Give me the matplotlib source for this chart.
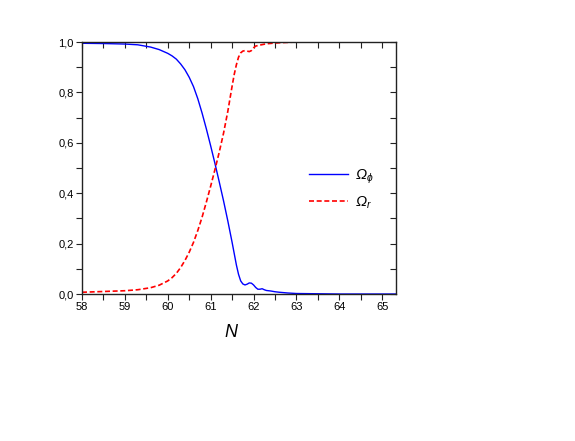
import matplotlib
matplotlib.use("Agg")
import matplotlib.pyplot as plt
from matplotlib.ticker import MultipleLocator
from matplotlib import markers

plt.rcParams.update({
    "font.family": ["Liberation Sans", "DejaVu Sans"],
    "mathtext.fontset": "custom",
    "mathtext.rm": "Liberation Sans:italic",
    "mathtext.it": "Liberation Sans:italic",
    "mathtext.bf": "Liberation Sans:bold",
})

# Omega_phi (solid blue)
n_phi = [58.0, 58.5, 59.0, 59.3, 59.6, 59.8, 60.0, 60.1, 60.2, 60.3, 60.4, 60.5, 60.6,
         60.7, 60.8, 60.9, 61.0, 61.1, 61.2, 61.3, 61.4, 61.5, 61.55, 61.6, 61.65, 61.7,
         61.75, 61.8, 61.85, 61.9, 61.95, 62.0, 62.05, 62.1, 62.15, 62.2, 62.25, 62.3,
         62.4, 62.5, 62.6, 62.8, 63.0, 63.5, 64.0, 65.32]
om_phi = [0.995, 0.994, 0.992, 0.989, 0.980, 0.970, 0.955, 0.945, 0.932, 0.913, 0.890,
          0.860, 0.823, 0.775, 0.718, 0.655, 0.588, 0.518, 0.445, 0.370, 0.290, 0.205,
          0.160, 0.115, 0.078, 0.052, 0.040, 0.036, 0.039, 0.044, 0.043, 0.036, 0.026,
          0.019, 0.019, 0.021, 0.017, 0.014, 0.012, 0.009, 0.007, 0.004, 0.002, 0.001,
          0.0, 0.0]

# Omega_r (dashed red)
n_r = [58.0, 58.5, 59.0, 59.3, 59.6, 59.8, 60.0, 60.1, 60.2, 60.3, 60.4, 60.5, 60.6,
       60.7, 60.8, 60.9, 61.0, 61.1, 61.2, 61.3, 61.4, 61.45, 61.5, 61.55, 61.6, 61.65,
       61.7, 61.75, 61.8, 61.85, 61.9, 61.95, 62.0, 62.05, 62.15, 62.3, 62.5, 62.7,
       63.0, 65.32]
om_r = [0.007, 0.010, 0.013, 0.017, 0.025, 0.035, 0.052, 0.065, 0.082, 0.105, 0.133,
        0.166, 0.205, 0.252, 0.305, 0.365, 0.428, 0.494, 0.563, 0.638, 0.725, 0.775,
        0.825, 0.872, 0.910, 0.940, 0.957, 0.964, 0.966, 0.964, 0.962, 0.966, 0.977,
        0.984, 0.988, 0.993, 0.996, 0.998, 1.0, 1.0]

x_ticks = [58, 59, 60, 61, 62, 63, 64, 65]
y_ticks = [0.0, 0.2, 0.4, 0.6, 0.8, 1.0]
y_labels = ["0,0", "0,2", "0,4", "0,6", "0,8", "1,0"]

fig = plt.figure(figsize=(5.75, 4.41), dpi=100)
ax = fig.add_axes([0.1426, 0.3333, 0.546, 0.5714])

ax.plot(n_phi, om_phi, color="#0000ff", lw=1.0, solid_joinstyle="round",
        label=r"$\Omega_{\phi}$")
ax.plot(n_r, om_r, color="#ff0000", lw=1.2, dashes=(3, 1.6), label=r"$\Omega_{r}$")

ax.set_xlim(58, 65.32)
ax.set_ylim(0, 1.0)
ax.set_xticks(x_ticks)
ax.set_yticks(y_ticks)
ax.set_yticklabels(y_labels)
ax.xaxis.set_minor_locator(MultipleLocator(0.5))
ax.yaxis.set_minor_locator(MultipleLocator(0.1))

for s in ax.spines.values():
    s.set_linewidth(1.0)
    s.set_color("#222222")

ax.tick_params(which="both", direction="out", length=4, width=0.8, labelsize=8,
               color="#222222", pad=2)
ax.tick_params(which="both", top=True, right=True)
# mirror ticks on top/right point inward
for t in ax.xaxis.get_major_ticks() + ax.xaxis.get_minor_ticks():
    t.tick2line.set_marker(markers.TICKDOWN)
for t in ax.yaxis.get_major_ticks() + ax.yaxis.get_minor_ticks():
    t.tick2line.set_marker(markers.TICKLEFT)

ax.set_xlabel("N", fontsize=13, style="italic")
ax.xaxis.set_label_coords(0.475, -0.12)

ax.legend(loc="upper left", bbox_to_anchor=(0.68, 0.555), frameon=False, fontsize=10.5,
          handlelength=2.7, handletextpad=0.5, labelspacing=0.6)

fig.savefig("out.png", dpi=100)
